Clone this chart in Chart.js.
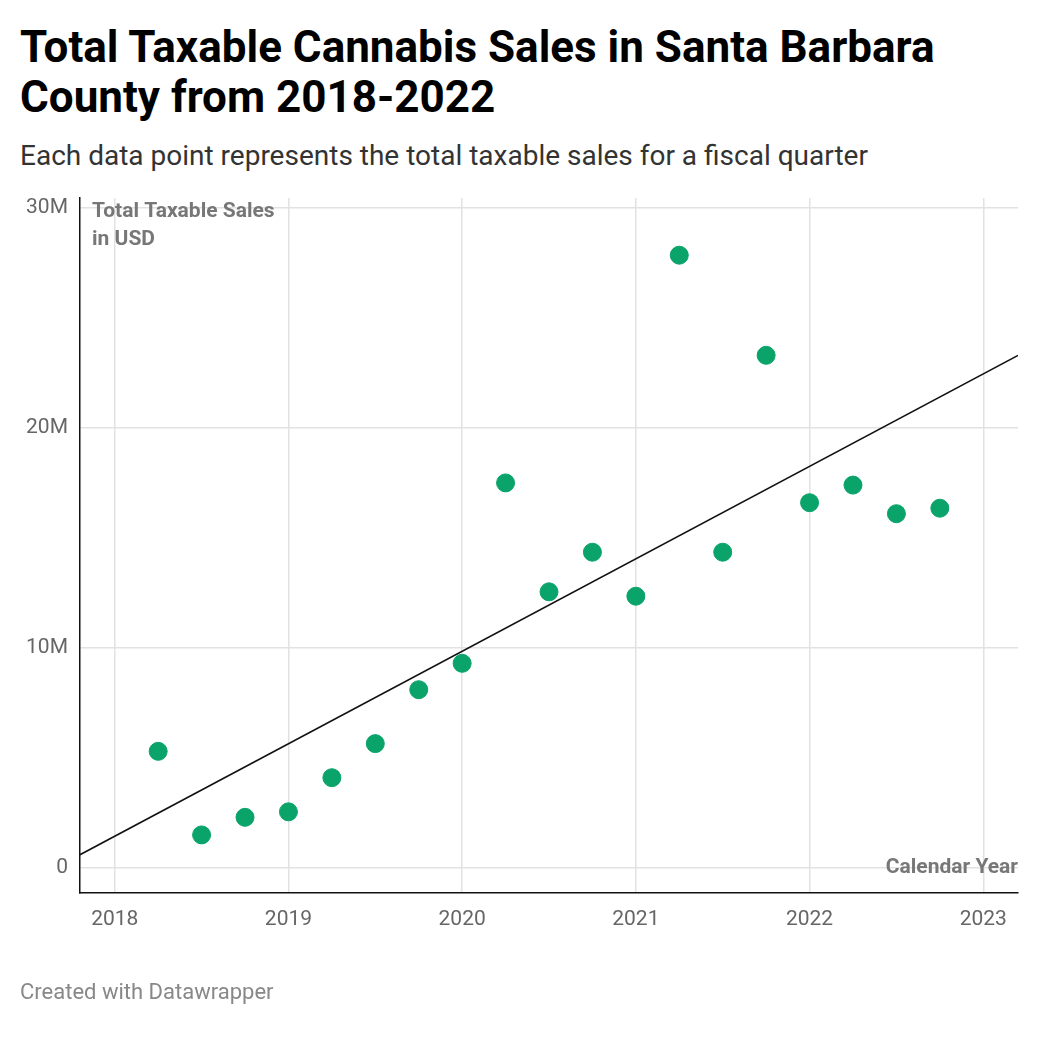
<!DOCTYPE html>
<html><head><meta charset="utf-8">
<script src="https://cdn.jsdelivr.net/npm/chart.js@4"></script>
<style>
body{margin:0;background:#fff;font-family:Roboto,sans-serif;}
#wrap{position:relative;width:1040px;height:1040px;}
h1{position:absolute;left:20px;top:22px;margin:0;font-size:44px;line-height:50px;font-weight:700;color:#000;width:1000px;}
#sub{position:absolute;left:20px;top:139px;font-size:28px;color:#333;}
#foot{position:absolute;left:20px;top:979px;font-size:22px;color:#888;}
canvas{position:absolute;left:0;top:0;}
</style></head><body>
<div id="wrap">
<h1>Total Taxable Cannabis Sales in Santa Barbara<br>County from 2018-2022</h1>
<div id="sub">Each data point represents the total taxable sales for a fiscal quarter</div>
<canvas id="c" width="1040" height="1040"></canvas>
<div id="foot">Created with Datawrapper</div>
</div>
<script>
const quarters=[2018.25,2018.5,2018.75,2019,2019.25,2019.5,2019.75,2020,2020.25,2020.5,2020.75,2021,2021.25,2021.5,2021.75,2022,2022.25,2022.5,2022.75];
const sales=[5.3,1.5,2.3,2.55,4.1,5.65,8.1,9.3,17.5,12.55,14.35,12.35,27.85,14.35,23.3,16.6,17.4,16.1,16.35].map(v=>v*1e6);
const trendX=[2017.8,2023.2];
const trendY=[0.6e6,23.3e6];
const yearTicks=[2018,2019,2020,2021,2022,2023];
const yTicks=[0,10e6,20e6,30e6];
const yLabels=['0','10M','20M','30M'];
const overlay={id:'ov',afterDraw(ch){const c=ch.ctx,a=ch.chartArea;c.save();c.fillStyle='#777';c.font='bold 21px Roboto';c.textBaseline='top';c.textAlign='left';c.fillText('Total Taxable Sales',92,201);c.fillText('in USD',92,229);c.textAlign='right';c.textBaseline='middle';c.fillText('Calendar Year',a.right,868);c.restore();}};
new Chart(document.getElementById('c'),{
type:'scatter',
data:{datasets:[
{data:quarters.map((x,i)=>({x,y:sales[i]})),backgroundColor:'#0aa36a',borderColor:'#0aa36a',pointRadius:9,pointHoverRadius:9,order:1},
{type:'line',data:trendX.map((x,i)=>({x,y:trendY[i]})),borderColor:'#111',borderWidth:1.5,pointRadius:0,fill:false,order:2}
]},
options:{responsive:false,animation:false,
layout:{padding:{left:20,top:198,right:22,bottom:97}},
plugins:{legend:{display:false},tooltip:{enabled:false}},
scales:{
x:{type:'linear',min:2017.8,max:2023.2,afterFit:s=>{s.height=50;},
afterBuildTicks:s=>{s.ticks=yearTicks.map(v=>({value:v}));},
ticks:{color:'#666',font:{size:21,family:'Roboto'},padding:14,callback:v=>String(v)},
grid:{color:'#e2e2e2',lineWidth:1.5,drawTicks:false},border:{color:'#111',width:1.5}},
y:{min:-1.14e6,max:30.45e6,afterFit:s=>{s.width=60;},
afterBuildTicks:s=>{s.ticks=yTicks.map(v=>({value:v}));},
ticks:{color:'#666',font:{size:21,family:'Roboto'},padding:12,callback:v=>yLabels[yTicks.indexOf(v)]},
grid:{color:'#e2e2e2',lineWidth:1.5,drawTicks:false},border:{color:'#111',width:1.5}}
}},
plugins:[overlay]});
</script>
</body></html>
